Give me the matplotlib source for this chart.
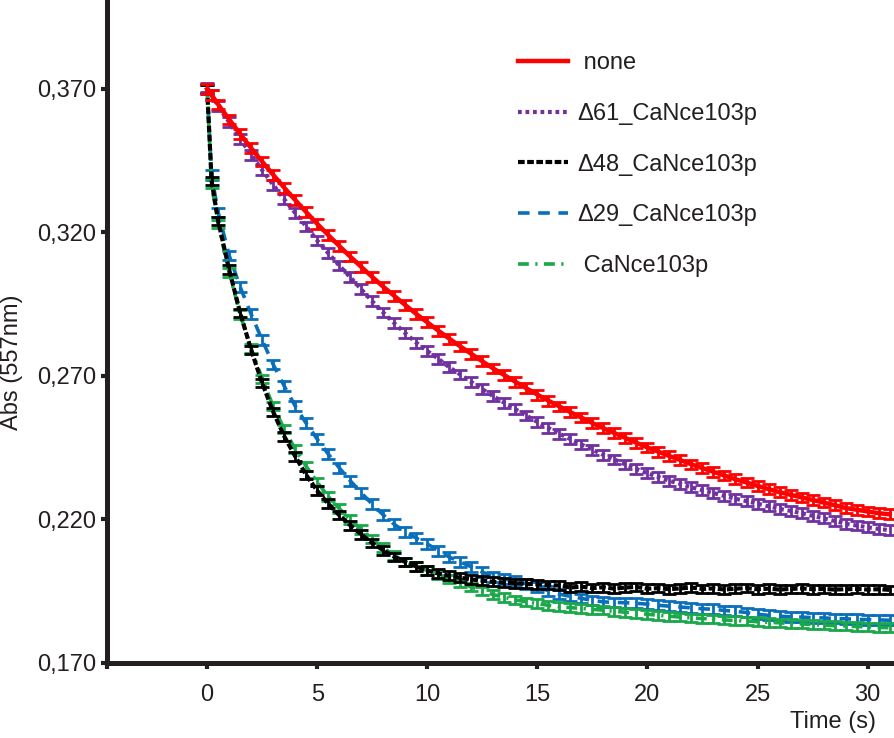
import numpy as np
import matplotlib
matplotlib.use("Agg")
import matplotlib.pyplot as plt

plt.rcParams['font.family'] = ['Liberation Sans', 'DejaVu Sans']

time_s = [0, 0.2] + [0.5 * k for k in range(1, 63)]

none_vals = [0.3700, 0.3680, 0.3646, 0.3594, 0.3543, 0.3494, 0.3447, 0.3401, 0.3356, 0.3313,
             0.3271, 0.3230, 0.3191, 0.3153, 0.3116, 0.3080, 0.3045, 0.3011, 0.2979, 0.2947,
             0.2916, 0.2887, 0.2858, 0.2830, 0.2803, 0.2777, 0.2751, 0.2726, 0.2703, 0.2680,
             0.2657, 0.2635, 0.2614, 0.2594, 0.2574, 0.2555, 0.2536, 0.2518, 0.2501, 0.2484,
             0.2467, 0.2451, 0.2436, 0.2421, 0.2407, 0.2392, 0.2379, 0.2366, 0.2353, 0.2340,
             0.2329, 0.2317, 0.2306, 0.2295, 0.2286, 0.2277, 0.2268, 0.2259, 0.2250, 0.2240,
             0.2234, 0.2228, 0.2222, 0.2218]

d61_vals = [0.3705, 0.3678, 0.3641, 0.3584, 0.3526, 0.3471, 0.3417, 0.3366, 0.3316, 0.3268,
            0.3221, 0.3172, 0.3128, 0.3085, 0.3044, 0.3002, 0.2960, 0.2921, 0.2884, 0.2849,
            0.2816, 0.2787, 0.2760, 0.2730, 0.2705, 0.2679, 0.2654, 0.2629, 0.2607, 0.2584,
            0.2562, 0.2540, 0.2519, 0.2499, 0.2480, 0.2461, 0.2443, 0.2425, 0.2409, 0.2392,
            0.2376, 0.2361, 0.2348, 0.2335, 0.2324, 0.2312, 0.2302, 0.2292, 0.2282, 0.2272,
            0.2264, 0.2255, 0.2246, 0.2237, 0.2230, 0.2222, 0.2213, 0.2204, 0.2195, 0.2185,
            0.2179, 0.2173, 0.2167, 0.2163]

d48_vals = [0.3700, 0.3380, 0.3240, 0.3070, 0.2920, 0.2790, 0.2675, 0.2575, 0.2490, 0.2420,
            0.2355, 0.2300, 0.2255, 0.2215, 0.2180, 0.2148, 0.2118, 0.2093, 0.2070, 0.2052,
            0.2036, 0.2022, 0.2012, 0.2004, 0.1997, 0.1991, 0.1987, 0.1983, 0.1980, 0.1978,
            0.1976, 0.1974, 0.1972, 0.1970, 0.1963, 0.1966, 0.1961, 0.1964, 0.1959, 0.1963,
            0.1965, 0.1959, 0.1961, 0.1957, 0.1960, 0.1963, 0.1958, 0.1960, 0.1956, 0.1959,
            0.1961, 0.1957, 0.1959, 0.1956, 0.1958, 0.1960, 0.1957, 0.1958, 0.1956, 0.1957,
            0.1958, 0.1956, 0.1957, 0.1955]

d29_vals = [0.3700, 0.3400, 0.3270, 0.3120, 0.3010, 0.2915, 0.2825, 0.2740, 0.2665, 0.2595,
            0.2535, 0.2480, 0.2428, 0.2380, 0.2335, 0.2293, 0.2253, 0.2216, 0.2183, 0.2157,
            0.2135, 0.2115, 0.2091, 0.2069, 0.2052, 0.2035, 0.2017, 0.2000, 0.1992, 0.1985,
            0.1976, 0.1965, 0.1952, 0.1940, 0.1932, 0.1925, 0.1918, 0.1913, 0.1911, 0.1910,
            0.1908, 0.1905, 0.1901, 0.1898, 0.1895, 0.1892, 0.1889, 0.1887, 0.1883, 0.1880,
            0.1876, 0.1870, 0.1866, 0.1863, 0.1861, 0.1860, 0.1858, 0.1857, 0.1855, 0.1854,
            0.1852, 0.1851, 0.1850, 0.1849]

wt_vals = [0.3700, 0.3370, 0.3230, 0.3060, 0.2915, 0.2795, 0.2690, 0.2595, 0.2515, 0.2445,
           0.2385, 0.2330, 0.2280, 0.2238, 0.2200, 0.2165, 0.2132, 0.2102, 0.2075, 0.2052,
           0.2037, 0.2022, 0.2008, 0.1993, 0.1979, 0.1965, 0.1951, 0.1938, 0.1929, 0.1920,
           0.1913, 0.1907, 0.1901, 0.1896, 0.1893, 0.1890, 0.1887, 0.1884, 0.1880, 0.1877,
           0.1873, 0.1870, 0.1866, 0.1863, 0.1860, 0.1857, 0.1855, 0.1853, 0.1850, 0.1848,
           0.1846, 0.1844, 0.1842, 0.1840, 0.1838, 0.1836, 0.1834, 0.1832, 0.1830, 0.1829,
           0.1827, 0.1826, 0.1824, 0.1823]

err_none = 0.0017
err_d61 = 0.0017
err_d48 = 0.0015
err_d29 = 0.0017
err_wt = 0.0015

labels = [' none', '\u039461_CaNce103p', '\u039448_CaNce103p', '\u039429_CaNce103p', ' CaNce103p']
y_ticks = [0.170, 0.220, 0.270, 0.320, 0.370]
y_ticklabels = ['0,170', '0,220', '0,270', '0,320', '0,370']
x_ticks = [0, 5, 10, 15, 20, 25, 30]

ink = '#231f20'
fig = plt.figure(figsize=(8.94, 7.38), dpi=100)
ax = fig.add_axes([107 / 894, 75 / 738, 1 - 107 / 894, 1 - 75 / 738])

series = [
    (d29_vals, err_d29, '#0a6fba', (0, (3.2, 2.4)), 2.6, labels[3], 2),
    (wt_vals, err_wt, '#1aa84a', (0, (3.0, 1.8, 0.6, 1.8)), 2.6, labels[4], 3),
    (d48_vals, err_d48, '#000000', (0, (1.6, 0.6)), 3.0, labels[2], 4),
    (d61_vals, err_d61, '#7030a0', (0, (0.9, 0.9)), 3.0, labels[1], 5),
    (none_vals, err_none, '#ff0000', '-', 3.2, labels[0], 6),
]
handles = {}
for vals, err, col, ls, lw, lab, z in series:
    ax.errorbar(time_s, vals, yerr=err, fmt='none', ecolor=col, elinewidth=2.0,
                capsize=5, capthick=2.0, zorder=z)
    ln, = ax.plot(time_s, vals, color=col, linestyle=ls, linewidth=lw, label=lab,
                  zorder=z + 0.5, dash_capstyle='butt')
    handles[lab] = ln

ax.set_xlim(-4.55, 31.2)
ax.set_ylim(0.170, 0.401)
ax.set_yticks(y_ticks)
ax.set_yticklabels(y_ticklabels)
ax.set_xticks(x_ticks)
ax.set_xticks([-4.55], minor=True)
for s in ['top', 'right']:
    ax.spines[s].set_visible(False)
for s in ['left', 'bottom']:
    ax.spines[s].set_linewidth(3.6)
    ax.spines[s].set_color(ink)
ax.tick_params(axis='both', which='both', direction='out', length=4, width=3,
               color=ink, labelsize=17, labelcolor=ink, pad=4)
ax.tick_params(axis='x', which='major', pad=11)
ax.tick_params(axis='x', which='minor', labelbottom=False)

order = [labels[0], labels[1], labels[2], labels[3], labels[4]]
leg = fig.legend([handles[l] for l in order], order, loc='upper left',
                 bbox_to_anchor=(518 / 894, 1 - 52 / 738), frameon=False,
                 fontsize=17, handlelength=2.1, handletextpad=0.4,
                 labelspacing=1.22, borderpad=0, borderaxespad=0)
for t in leg.get_texts():
    t.set_color(ink)

fig.text(12 / 894, 1 - 362 / 738, 'Abs (557nm)', rotation=90, ha='center', va='center',
         fontsize=17, color=ink)
fig.text(833 / 894, 1 - 722 / 738, 'Time (s)', ha='center', va='center',
         fontsize=17, color=ink)

fig.savefig('out.png', dpi=100)
